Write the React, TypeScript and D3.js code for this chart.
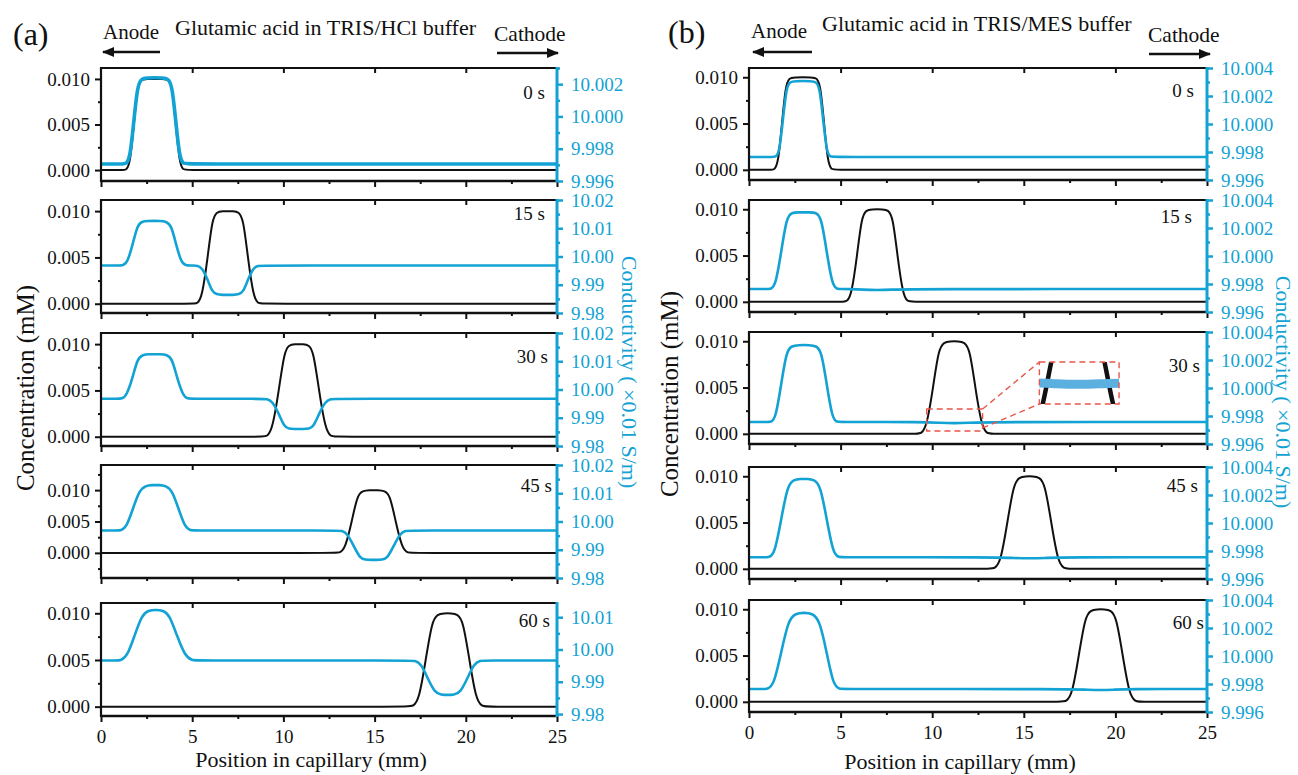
import React, { useEffect, useRef } from 'react'
import * as d3 from 'd3'

type Pt = [number, number]

const W = 1298
const H = 775
const BLUE = '#13a2d4'
const INSET_BLUE = '#5cb0e0'
const RED = '#e8564c'
const INK = '#111'
const FONT = '"Liberation Serif", "Times New Roman", serif'

const TIME_LABELS = ['0 s', '15 s', '30 s', '45 s', '60 s']
const X_TICKS = [0, 5, 10, 15, 20, 25]
const X_MINOR = [2.5, 7.5, 12.5, 17.5, 22.5]
const CONC_TICKS = [0, 0.005, 0.01]
const CONC_MINOR = [-0.0025, 0.0025, 0.0075, 0.0125]

// ---- panel (a): TRIS/HCl ----
const A_BLACK_0: Pt[] = [[0, 0], [1.2, 0], [1.4, 0], [1.6, 0.0008], [1.8, 0.005], [2.0, 0.0092], [2.2, 0.0099], [2.4, 0.01], [3.5, 0.01], [3.7, 0.0099], [3.9, 0.0092], [4.1, 0.005], [4.3, 0.0008], [4.5, 0], [4.7, 0], [25, 0]]
const A_BLACK_15: Pt[] = [[0, 0], [5.05, 0], [5.3, 0], [5.55, 0.0008], [5.85, 0.005], [6.1, 0.0092], [6.35, 0.0099], [6.6, 0.01], [7.3, 0.01], [7.55, 0.0099], [7.8, 0.0092], [8.05, 0.005], [8.35, 0.0008], [8.6, 0], [8.85, 0], [25, 0]]
const A_BLACK_30: Pt[] = [[0, 0], [8.85, 0], [9.1, 0], [9.4, 0.0008], [9.75, 0.005], [10.05, 0.0092], [10.3, 0.0099], [10.6, 0.01], [11.1, 0.01], [11.4, 0.0099], [11.65, 0.0092], [11.95, 0.005], [12.3, 0.0008], [12.6, 0], [12.85, 0], [25, 0]]
const A_BLACK_45: Pt[] = [[0, 0], [12.85, 0], [13.1, 0], [13.4, 0.0008], [13.75, 0.005], [14.05, 0.0092], [14.35, 0.0099], [14.7, 0.01], [15.2, 0.01], [15.55, 0.0099], [15.85, 0.0092], [16.15, 0.005], [16.5, 0.0008], [16.8, 0], [17.05, 0], [25, 0]]
const A_BLACK_60: Pt[] = [[0, 0], [16.85, 0], [17.1, 0], [17.45, 0.0008], [17.8, 0.005], [18.15, 0.0092], [18.45, 0.0099], [18.8, 0.01], [19.2, 0.01], [19.55, 0.0099], [19.85, 0.0092], [20.2, 0.005], [20.55, 0.0008], [20.9, 0], [21.15, 0], [25, 0]]

const A_BLUE_0: Pt[] = [[0, 9.99705], [1.2, 9.99705], [1.4, 9.99705], [1.6, 9.9975], [1.8, 9.9997], [2.0, 10.0019], [2.2, 10.0023], [2.4, 10.0024], [3.5, 10.0024], [3.7, 10.0023], [3.9, 10.0019], [4.1, 9.9997], [4.3, 9.9975], [4.5, 9.99705], [4.7, 9.99705], [25, 9.99705]]
const A_BLUE_15: Pt[] = [[0, 9.9968], [0.95, 9.9968], [1.2, 9.9968], [1.45, 9.9978], [1.75, 10.0046], [2.0, 10.0112], [2.25, 10.0124], [2.5, 10.0126], [3.3, 10.0126], [3.55, 10.0124], [3.85, 10.0112], [4.1, 10.0046], [4.4, 9.9978], [4.65, 9.9968], [4.9, 9.9968], [5.05, 9.9968], [5.3, 9.9968], [5.55, 9.996], [5.85, 9.9918], [6.1, 9.9874], [6.35, 9.9866], [6.6, 9.9864], [7.3, 9.9864], [7.55, 9.9866], [7.8, 9.9874], [8.05, 9.9918], [8.35, 9.996], [8.6, 9.9968], [8.85, 9.9968], [25, 9.9968]]
const A_BLUE_30: Pt[] = [[0, 9.9967], [0.9, 9.9967], [1.15, 9.9967], [1.4, 9.9977], [1.75, 10.0045], [2.0, 10.011], [2.3, 10.0123], [2.6, 10.0125], [3.3, 10.0125], [3.6, 10.0123], [3.9, 10.011], [4.15, 10.0045], [4.5, 9.9977], [4.75, 9.9967], [5.0, 9.9967], [8.85, 9.9967], [9.1, 9.9967], [9.4, 9.9958], [9.75, 9.9914], [10.05, 9.9868], [10.3, 9.9861], [10.6, 9.986], [11.1, 9.986], [11.4, 9.9861], [11.65, 9.9868], [11.95, 9.9914], [12.3, 9.9958], [12.6, 9.9967], [12.85, 9.9967], [25, 9.9967]]
const A_BLUE_45: Pt[] = [[0, 9.9968], [0.85, 9.9968], [1.1, 9.9968], [1.4, 9.998], [1.75, 10.0045], [2.1, 10.011], [2.45, 10.0127], [2.8, 10.0129], [3.2, 10.0129], [3.55, 10.0127], [3.9, 10.011], [4.25, 10.0045], [4.6, 9.998], [4.9, 9.9968], [5.15, 9.9968], [12.95, 9.9968], [13.2, 9.9968], [13.5, 9.9958], [13.85, 9.9914], [14.2, 9.9869], [14.5, 9.9865], [14.8, 9.9864], [15.1, 9.9864], [15.4, 9.9865], [15.7, 9.9869], [16.05, 9.9914], [16.4, 9.9958], [16.7, 9.9968], [16.95, 9.9968], [25, 9.9968]]
const A_BLUE_60: Pt[] = [[0, 9.9966], [0.85, 9.9966], [1.1, 9.9966], [1.45, 9.998], [1.85, 10.0045], [2.25, 10.0108], [2.6, 10.0121], [3.0, 10.0123], [3.4, 10.0121], [3.75, 10.0108], [4.15, 10.0045], [4.6, 9.998], [5.0, 9.9966], [5.25, 9.9966], [16.95, 9.9966], [17.2, 9.9966], [17.55, 9.9956], [17.9, 9.9912], [18.3, 9.9866], [18.65, 9.986], [19.0, 9.9859], [19.35, 9.986], [19.7, 9.9866], [20.1, 9.9912], [20.45, 9.9956], [20.8, 9.9966], [21.05, 9.9966], [25, 9.9966]]

const A_CONC_DOMAINS: Pt[] = [[-0.0012, 0.0112], [-0.001, 0.0112], [-0.001, 0.0112], [-0.004, 0.014], [-0.001, 0.0111]]
const A_COND_DOMAINS: Pt[] = [[9.996, 10.003], [9.98, 10.02], [9.98, 10.02], [9.98, 10.02], [9.9794, 10.0144]]
const A_COND_TICKS = [
  [9.996, 9.998, 10.0, 10.002],
  [9.98, 9.99, 10.0, 10.01, 10.02],
  [9.98, 9.99, 10.0, 10.01, 10.02],
  [9.98, 9.99, 10.0, 10.01, 10.02],
  [9.98, 9.99, 10.0, 10.01],
]
const A_COND_MINOR = [
  [9.997, 9.999, 10.001, 10.003],
  [9.985, 9.995, 10.005, 10.015],
  [9.985, 9.995, 10.005, 10.015],
  [9.985, 9.995, 10.005, 10.015],
  [9.985, 9.995, 10.005],
]

// ---- panel (b): TRIS/MES ----
const B_BLACK_0: Pt[] = [[0, 0], [1.2, 0], [1.4, 0], [1.6, 0.0008], [1.8, 0.005], [2.0, 0.0092], [2.2, 0.0099], [2.4, 0.01], [3.5, 0.01], [3.7, 0.0099], [3.9, 0.0092], [4.1, 0.005], [4.3, 0.0008], [4.5, 0], [4.7, 0], [25, 0]]
const B_BLACK_15: Pt[] = [[0, 0], [5.1, 0], [5.35, 0], [5.6, 0.0008], [5.9, 0.005], [6.15, 0.0092], [6.4, 0.0099], [6.65, 0.01], [7.35, 0.01], [7.6, 0.0099], [7.85, 0.0092], [8.1, 0.005], [8.4, 0.0008], [8.65, 0], [8.9, 0], [25, 0]]
const B_BLACK_30: Pt[] = [[0, 0], [9.15, 0], [9.4, 0], [9.7, 0.0008], [10.05, 0.005], [10.35, 0.0092], [10.65, 0.0099], [10.95, 0.01], [11.45, 0.01], [11.75, 0.0099], [12.05, 0.0092], [12.35, 0.005], [12.7, 0.0008], [13.0, 0], [13.25, 0], [25, 0]]
const B_BLACK_45: Pt[] = [[0, 0], [13.15, 0], [13.4, 0], [13.75, 0.0008], [14.1, 0.005], [14.45, 0.0092], [14.75, 0.0099], [15.1, 0.01], [15.5, 0.01], [15.85, 0.0099], [16.15, 0.0092], [16.5, 0.005], [16.85, 0.0008], [17.2, 0], [17.45, 0], [25, 0]]
const B_BLACK_60: Pt[] = [[0, 0], [17.05, 0], [17.3, 0], [17.65, 0.0008], [18.0, 0.005], [18.35, 0.0092], [18.65, 0.0099], [19.0, 0.01], [19.4, 0.01], [19.75, 0.0099], [20.05, 0.0092], [20.4, 0.005], [20.75, 0.0008], [21.1, 0], [21.35, 0], [25, 0]]

const B_BLUE_0: Pt[] = [[0, 9.99764], [1.25, 9.99764], [1.45, 9.99764], [1.65, 9.9979], [1.85, 10.0003], [2.05, 10.0027], [2.25, 10.003], [2.45, 10.00307], [3.45, 10.00307], [3.65, 10.003], [3.85, 10.0027], [4.05, 10.0003], [4.25, 9.9979], [4.45, 9.99764], [4.65, 9.99764], [25, 9.99764]]
const B_BLUE_15: Pt[] = [[0, 9.99764], [0.95, 9.99764], [1.2, 9.99764], [1.45, 9.9979], [1.75, 10.0002], [2.05, 10.0028], [2.35, 10.0031], [2.65, 10.00312], [3.35, 10.00312], [3.65, 10.0031], [3.95, 10.0028], [4.25, 10.0002], [4.55, 9.9979], [4.8, 9.99764], [5.05, 9.99764], [5.5, 9.99764], [6.2, 9.99759], [7.0, 9.99757], [7.8, 9.99759], [8.5, 9.99764], [25, 9.99764]]
const B_BLUE_30: Pt[] = [[0, 9.99757], [0.95, 9.99757], [1.2, 9.99757], [1.45, 9.9978], [1.75, 10.0002], [2.05, 10.0027], [2.35, 10.003], [2.65, 10.00307], [3.35, 10.00307], [3.65, 10.003], [3.95, 10.0027], [4.25, 10.0002], [4.55, 9.9978], [4.8, 9.99757], [5.05, 9.99757], [9.6, 9.99757], [10.4, 9.99751], [11.2, 9.99748], [12.0, 9.99751], [12.8, 9.99757], [25, 9.99757]]
const B_BLUE_45: Pt[] = [[0, 9.99755], [0.85, 9.99755], [1.1, 9.99755], [1.4, 9.9978], [1.75, 10.0002], [2.1, 10.0027], [2.45, 10.0031], [2.8, 10.00315], [3.2, 10.00315], [3.55, 10.0031], [3.9, 10.0027], [4.25, 10.0002], [4.6, 9.9978], [4.9, 9.99755], [5.15, 9.99755], [13.6, 9.99755], [14.4, 9.9975], [15.3, 9.99747], [16.2, 9.9975], [17.0, 9.99755], [25, 9.99755]]
const B_BLUE_60: Pt[] = [[0, 9.99764], [0.75, 9.99764], [1.0, 9.99764], [1.35, 9.9979], [1.75, 10.0002], [2.15, 10.0026], [2.55, 10.00305], [3.0, 10.0031], [3.45, 10.00305], [3.85, 10.0026], [4.25, 10.0002], [4.6, 9.9979], [4.95, 9.99764], [5.2, 9.99764], [17.8, 9.99764], [18.5, 9.99759], [19.2, 9.99756], [19.9, 9.99759], [20.6, 9.99764], [25, 9.99764]]

const B_CONC_DOMAINS: Pt[] = [[-0.0011, 0.011], [-0.0011, 0.011], [-0.0011, 0.011], [-0.0011, 0.011], [-0.0011, 0.011]]
const B_COND_DOMAIN: Pt = [9.996, 10.004]
const B_COND_TICKS = [9.996, 9.998, 10.0, 10.002, 10.004]
const B_COND_MINOR = [9.997, 9.999, 10.001, 10.003]

// zoom box on (b) 30 s: source box, magnified view ranges, target box
const ZOOM_BOX_X: Pt = [9.7, 12.75]
const ZOOM_BOX_COND: Pt = [9.99693, 9.9985]
const ZOOM_VIEW_X: Pt = [9.75, 12.75]
const ZOOM_VIEW_CONC: Pt = [0.003, 0.007]
const ZOOM_VIEW_COND: Pt = [9.9966, 9.9985]
const ZOOM_TARGET_X: Pt = [15.85, 20.2]
const ZOOM_TARGET_COND: Pt = [9.99886, 10.00186]

const PANELS = [
  {
    id: 'a', left: 101, right: 557, tops: [68, 200, 333, 465, 603], h: 113,
    black: [A_BLACK_0, A_BLACK_15, A_BLACK_30, A_BLACK_45, A_BLACK_60],
    blue: [A_BLUE_0, A_BLUE_15, A_BLUE_30, A_BLUE_45, A_BLUE_60],
    conc: A_CONC_DOMAINS, cond: A_COND_DOMAINS,
    condTicks: A_COND_TICKS, condMinor: A_COND_MINOR,
    condFmt: ['.3f', '.2f', '.2f', '.2f', '.2f'],
    labelPos: [[545, 24], [545, 13], [548, 23], [552, 20], [550, 17]],
    letter: '(a)', letterX: 13, letterY: 45,
    anodeX: 103, anodeY: 39, anodeArrow: [160, 103, 52],
    title: 'Glutamic acid in TRIS/HCl buffer', titleX: 175, titleY: 35,
    cathodeX: 494, cathodeY: 41, cathodeArrow: [497, 558, 53],
    concTitleX: 25, concTitleY: 388, condTitleX: 629, condTitleY: 372,
    xTitleY: 767,
  },
  {
    id: 'b', left: 749, right: 1207, tops: [68, 200, 332, 467, 600], h: 112,
    black: [B_BLACK_0, B_BLACK_15, B_BLACK_30, B_BLACK_45, B_BLACK_60],
    blue: [B_BLUE_0, B_BLUE_15, B_BLUE_30, B_BLUE_45, B_BLUE_60],
    conc: B_CONC_DOMAINS, cond: [B_COND_DOMAIN, B_COND_DOMAIN, B_COND_DOMAIN, B_COND_DOMAIN, B_COND_DOMAIN],
    condTicks: [B_COND_TICKS, B_COND_TICKS, B_COND_TICKS, B_COND_TICKS, B_COND_TICKS],
    condMinor: [B_COND_MINOR, B_COND_MINOR, B_COND_MINOR, B_COND_MINOR, B_COND_MINOR],
    condFmt: ['.3f', '.3f', '.3f', '.3f', '.3f'],
    labelPos: [[1194, 22], [1192, 16], [1200, 33], [1198, 18], [1204, 22]],
    letter: '(b)', letterX: 668, letterY: 43,
    anodeX: 751, anodeY: 38, anodeArrow: [812, 753, 52],
    title: 'Glutamic acid in TRIS/MES buffer', titleX: 822, titleY: 31,
    cathodeX: 1148, cathodeY: 42, cathodeArrow: [1149, 1210, 54],
    concTitleX: 669, concTitleY: 394, condTitleX: 1283, condTitleY: 392,
    xTitleY: 769,
  },
]

type Sel = d3.Selection<any, unknown, null, undefined>

const styleAxis = (g: Sel, color: string, width: number) => {
  g.select('.domain').remove()
  g.attr('font-family', FONT).attr('font-size', 19)
  g.selectAll('line').attr('stroke', color).attr('stroke-width', width)
  g.selectAll('text').attr('fill', color).attr('font-family', FONT).attr('font-size', 19)
}

export default function App() {
  const ref = useRef<SVGSVGElement>(null)

  useEffect(() => {
    const svg = d3.select(ref.current)
    svg.selectAll('*').remove()
    svg.append('rect').attr('width', W).attr('height', H).attr('fill', '#fff')

    const defs = svg.append('defs')
    defs.append('marker')
      .attr('id', 'arrowhead')
      .attr('markerUnits', 'userSpaceOnUse')
      .attr('markerWidth', 12).attr('markerHeight', 10)
      .attr('refX', 11).attr('refY', 5)
      .attr('orient', 'auto')
      .append('path').attr('d', 'M0,0 L12,5 L0,10 Z').attr('fill', INK)

    PANELS.forEach((p) => {
      const panel = svg.append('g').attr('class', `panel-${p.id}`)
      const x = d3.scaleLinear().domain([0, 25]).range([p.left, p.right])

      p.tops.forEach((top, i) => {
        const bottom = top + p.h
        const yL = d3.scaleLinear().domain(p.conc[i]).range([bottom, top])
        const yR = d3.scaleLinear().domain(p.cond[i]).range([bottom, top])
        const row = panel.append('g').attr('class', 'row')
        const clipId = `clip-${p.id}-${i}`
        defs.append('clipPath').attr('id', clipId)
          .append('rect').attr('x', p.left).attr('y', top).attr('width', p.right - p.left).attr('height', p.h)

        const plot = row.append('g').attr('clip-path', `url(#${clipId})`)
        const lineL = d3.line<Pt>().x((d) => x(d[0])).y((d) => yL(d[1])).curve(d3.curveBasis)
        const lineR = d3.line<Pt>().x((d) => x(d[0])).y((d) => yR(d[1])).curve(d3.curveBasis)
        plot.append('path').attr('d', lineL(p.black[i])).attr('fill', 'none')
          .attr('stroke', INK).attr('stroke-width', 2)
        plot.append('path').attr('d', lineR(p.blue[i])).attr('fill', 'none')
          .attr('stroke', BLUE).attr('stroke-width', p.id === 'a' && i === 0 ? 3.6 : 2.6)

        // left axis
        const lMinor = CONC_MINOR.filter((v) => v > p.conc[i][0] && v < p.conc[i][1])
        row.append('g').attr('transform', `translate(${p.left},0)`)
          .call(d3.axisLeft(yL).tickValues(lMinor).tickFormat(() => '').tickSize(3))
          .call((g: Sel) => styleAxis(g, INK, 2))
        row.append('g').attr('transform', `translate(${p.left},0)`)
          .call(d3.axisLeft(yL).tickValues(CONC_TICKS).tickFormat(d3.format('.3f')).tickSize(6).tickPadding(5))
          .call((g: Sel) => styleAxis(g, INK, 2))

        // top (inward) and bottom axes
        row.append('g').attr('transform', `translate(0,${top})`)
          .call(d3.axisBottom(x).tickValues([5, 10, 15, 20]).tickFormat(() => '').tickSize(5))
          .call((g: Sel) => styleAxis(g, INK, 2))
        const last = i === p.tops.length - 1
        row.append('g').attr('transform', `translate(0,${bottom})`)
          .call(d3.axisBottom(x).tickValues(X_MINOR).tickFormat(() => '').tickSize(3))
          .call((g: Sel) => styleAxis(g, INK, 2))
        row.append('g').attr('transform', `translate(0,${bottom})`)
          .call(d3.axisBottom(x).tickValues(X_TICKS).tickFormat(last ? d3.format('d') : () => '').tickSize(6).tickPadding(8))
          .call((g: Sel) => styleAxis(g, INK, 2))

        // right axis
        row.append('g').attr('transform', `translate(${p.right},0)`)
          .call(d3.axisRight(yR).tickValues(p.condMinor[i]).tickFormat(() => '').tickSize(3))
          .call((g: Sel) => styleAxis(g, BLUE, 2.5))
        row.append('g').attr('transform', `translate(${p.right},0)`)
          .call(d3.axisRight(yR).tickValues(p.condTicks[i]).tickFormat(d3.format(p.condFmt[i])).tickSize(6).tickPadding(8))
          .call((g: Sel) => styleAxis(g, BLUE, 2.5))

        // frame
        row.append('line').attr('x1', p.left).attr('x2', p.right).attr('y1', top).attr('y2', top)
          .attr('stroke', INK).attr('stroke-width', 2.2)
        row.append('line').attr('x1', p.left).attr('x2', p.right).attr('y1', bottom).attr('y2', bottom)
          .attr('stroke', INK).attr('stroke-width', 2.5)
        row.append('line').attr('x1', p.left).attr('x2', p.left).attr('y1', top - 1).attr('y2', bottom + 1)
          .attr('stroke', INK).attr('stroke-width', 2.2)
        row.append('line').attr('x1', p.right).attr('x2', p.right).attr('y1', top - 1).attr('y2', bottom + 1)
          .attr('stroke', BLUE).attr('stroke-width', 3)

        // time label
        const [lx, ldy] = p.labelPos[i]
        row.append('text').attr('x', lx).attr('y', top + ldy + 6.5)
          .attr('text-anchor', 'end').attr('font-family', FONT).attr('font-size', 19).attr('fill', INK)
          .text(TIME_LABELS[i])

        // magnified view of the dip under the peak
        if (p.id === 'b' && i === 2) {
          const sx0 = x(ZOOM_BOX_X[0]), sx1 = x(ZOOM_BOX_X[1])
          const sy0 = yR(ZOOM_BOX_COND[1]), sy1 = yR(ZOOM_BOX_COND[0])
          const tx0 = x(ZOOM_TARGET_X[0]), tx1 = x(ZOOM_TARGET_X[1])
          const ty0 = yR(ZOOM_TARGET_COND[1]), ty1 = yR(ZOOM_TARGET_COND[0])
          const ix = d3.scaleLinear().domain(ZOOM_VIEW_X).range([tx0, tx1])
          const iyL = d3.scaleLinear().domain(ZOOM_VIEW_CONC).range([ty1, ty0])
          const iyR = d3.scaleLinear().domain(ZOOM_VIEW_COND).range([ty1, ty0])
          const zClip = 'clip-zoom'
          defs.append('clipPath').attr('id', zClip)
            .append('rect').attr('x', tx0).attr('y', ty0).attr('width', tx1 - tx0).attr('height', ty1 - ty0)
          const zoom = row.append('g').attr('clip-path', `url(#${zClip})`)
          zoom.append('path')
            .attr('d', d3.line<Pt>().x((d) => ix(d[0])).y((d) => iyL(d[1])).curve(d3.curveBasis)(p.black[i]))
            .attr('fill', 'none').attr('stroke', INK).attr('stroke-width', 4.5)
          zoom.append('path')
            .attr('d', d3.line<Pt>().x((d) => ix(d[0])).y((d) => iyR(d[1])).curve(d3.curveBasis)(p.blue[i]))
            .attr('fill', 'none').attr('stroke', INSET_BLUE).attr('stroke-width', 9)

          const dashed = (sel: Sel) => sel.attr('fill', 'none').attr('stroke', RED)
            .attr('stroke-width', 1.4).attr('stroke-dasharray', '6,4')
          row.append('rect').attr('x', sx0).attr('y', sy0).attr('width', sx1 - sx0).attr('height', sy1 - sy0).call(dashed)
          row.append('rect').attr('x', tx0).attr('y', ty0).attr('width', tx1 - tx0).attr('height', ty1 - ty0).call(dashed)
          row.append('line').attr('x1', sx1).attr('y1', sy0).attr('x2', tx0).attr('y2', ty0).call(dashed)
          row.append('line').attr('x1', sx1).attr('y1', sy1 - 3).attr('x2', tx0).attr('y2', ty1).call(dashed)
        }
      })

      // axis titles
      panel.append('text').attr('x', (p.left + p.right) / 2 - 18).attr('y', p.xTitleY)
        .attr('text-anchor', 'middle').attr('font-family', FONT).attr('font-size', 22).attr('fill', INK)
        .text('Position in capillary (mm)')
      panel.append('text')
        .attr('transform', `translate(${p.concTitleX},${p.concTitleY}) rotate(-90)`)
        .attr('text-anchor', 'middle').attr('dominant-baseline', 'central')
        .attr('font-family', FONT).attr('font-size', 25).attr('fill', INK)
        .text('Concentration (mM)')
      panel.append('text')
        .attr('transform', `translate(${p.condTitleX},${p.condTitleY}) rotate(90)`)
        .attr('text-anchor', 'middle').attr('dominant-baseline', 'central')
        .attr('font-family', FONT).attr('font-size', 22).attr('fill', BLUE)
        .text('Conductivity ( ×0.01 S/m)')

      // header
      const txt = (tx: number, ty: number, s: string, size: number) =>
        panel.append('text').attr('x', tx).attr('y', ty).attr('font-family', FONT)
          .attr('font-size', size).attr('fill', INK).text(s)
      txt(p.letterX, p.letterY, p.letter, 32)
      txt(p.anodeX, p.anodeY, 'Anode', 21)
      txt(p.titleX, p.titleY, p.title, 22)
      txt(p.cathodeX, p.cathodeY, 'Cathode', 21.5)
      const arrow = (a: number[]) => panel.append('line')
        .attr('x1', a[0]).attr('x2', a[1]).attr('y1', a[2]).attr('y2', a[2])
        .attr('stroke', INK).attr('stroke-width', 2.5).attr('marker-end', 'url(#arrowhead)')
      arrow(p.anodeArrow)
      arrow(p.cathodeArrow)
    })
  }, [])

  return (
    <svg ref={ref} width={W} height={H} style={{ position: 'absolute', left: 0, top: 0 }}></svg>
  )
}
